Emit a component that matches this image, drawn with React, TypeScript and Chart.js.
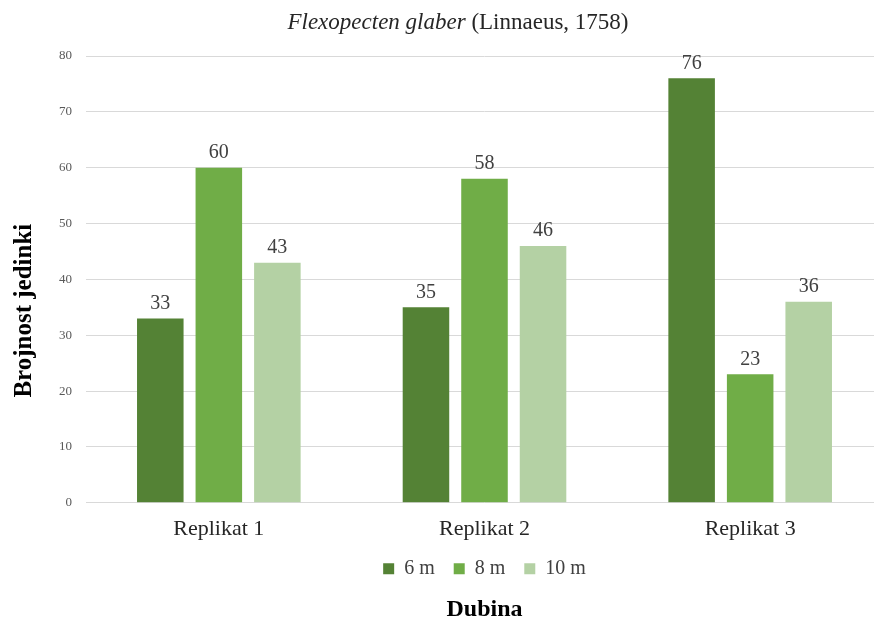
import React, { useEffect, useRef } from "react";
import { Chart, registerables } from "chart.js";
Chart.register(...registerables);

const categories = ["Replikat 1", "Replikat 2", "Replikat 3"];
const seriesNames = ["6 m", "8 m", "10 m"];
const values6m = [33, 35, 76];
const values8m = [60, 58, 23];
const values10m = [43, 46, 36];
const seriesColors = ["#548235", "#70AD47", "#B4D1A4"];
const yMin = 0;
const yMax = 80;
const yStep = 10;
const titleItalic = "Flexopecten glaber";
const titleRegular = " (Linnaeus, 1758)";
const xAxisTitle = "Dubina";
const yAxisTitle = "Brojnost jedinki";

const SERIF = "'Liberation Serif', 'Times New Roman', serif";

const topTitlePlugin = {
  id: "topTitle",
  afterDraw(chart: any) {
    const ctx = chart.ctx;
    ctx.save();
    ctx.fillStyle = "#262626";
    ctx.textBaseline = "middle";
    ctx.font = `italic 23px ${SERIF}`;
    const w1 = ctx.measureText(titleItalic).width;
    ctx.font = `23px ${SERIF}`;
    const w2 = ctx.measureText(titleRegular).width;
    const cx = 458;
    const x = cx - (w1 + w2) / 2;
    const y = 23;
    ctx.textAlign = "left";
    ctx.font = `italic 23px ${SERIF}`;
    ctx.fillText(titleItalic, x, y);
    ctx.font = `23px ${SERIF}`;
    ctx.fillText(titleRegular, x + w1, y);
    ctx.restore();
  },
};

const dataLabelPlugin = {
  id: "dataLabels",
  afterDatasetsDraw(chart: any) {
    const ctx = chart.ctx;
    ctx.save();
    ctx.font = `20px ${SERIF}`;
    ctx.fillStyle = "#404040";
    ctx.textAlign = "center";
    ctx.textBaseline = "bottom";
    chart.data.datasets.forEach((ds: any, i: number) => {
      const meta = chart.getDatasetMeta(i);
      meta.data.forEach((el: any, j: number) => {
        ctx.fillText(String(ds.data[j]), el.x, el.y - 5);
      });
    });
    ctx.restore();
  },
};

export default function App() {
  const ref = useRef<HTMLCanvasElement | null>(null);
  useEffect(() => {
    if (!ref.current) return;
    const allValues = [values6m, values8m, values10m];
    const chart = new Chart(ref.current, {
      type: "bar",
      data: {
        labels: categories,
        datasets: seriesNames.map((name, i) => ({
          label: name,
          data: allValues[i],
          backgroundColor: seriesColors[i],
          borderWidth: 0,
          categoryPercentage: 0.661,
          barPercentage: 0.795,
        })),
      },
      options: {
        animation: false,
        responsive: true,
        maintainAspectRatio: false,
        layout: { padding: { top: 56, right: 7, left: 0, bottom: 0 } },
        plugins: {
          legend: {
            position: "bottom",
            fullSize: false,
            labels: {
              boxWidth: 11,
              boxHeight: 11,
              padding: 4,
              color: "#404040",
              font: { family: SERIF, size: 20 },
              generateLabels(chart: any) {
                const items = Chart.defaults.plugins.legend.labels.generateLabels(chart);
                return items.map((it: any, idx: number) => ({
                  ...it,
                  text: idx < items.length - 1 ? it.text + "\u00A0\u00A0\u00A0" : it.text,
                  lineWidth: 0,
                }));
              },
            },
          },
          title: {
            display: true,
            position: "bottom",
            fullSize: false,
            text: xAxisTitle,
            color: "#000000",
            font: { family: SERIF, size: 24, weight: "bold", lineHeight: 0.8 },
            padding: { top: 11, bottom: 0 },
          },
          tooltip: { enabled: false },
        },
        scales: {
          x: {
            grid: { display: false, drawTicks: false },
            border: { display: false },
            ticks: {
              color: "#262626",
              font: { family: SERIF, size: 22, lineHeight: 1.0 },
              padding: 15,
            },
          },
          y: {
            min: yMin,
            max: yMax,
            ticks: {
              stepSize: yStep,
              color: "#595959",
              font: { family: SERIF, size: 13 },
              padding: 14,
            },
            grid: { color: "#D9D9D9", drawTicks: false, lineWidth: 1 },
            border: { display: false },
            title: {
              display: true,
              text: yAxisTitle + "\u00A0".repeat(10),
              color: "#000000",
              font: { family: SERIF, size: 25, weight: "bold" },
              padding: { top: 10, bottom: 0 },
            },
            afterFit(scale: any) {
              scale.width = 86;
            },
          },
        },
      },
      plugins: [topTitlePlugin, dataLabelPlugin],
    });
    return () => chart.destroy();
  }, []);
  return (
    <div style={{ position: "fixed", left: 0, top: 0, width: 874, height: 619, overflow: "hidden", background: "#fff" }}>
      <div style={{ position: "absolute", left: 0, top: 0, width: 890, height: 619 }}>
        <canvas ref={ref} />
      </div>
    </div>
  );
}
